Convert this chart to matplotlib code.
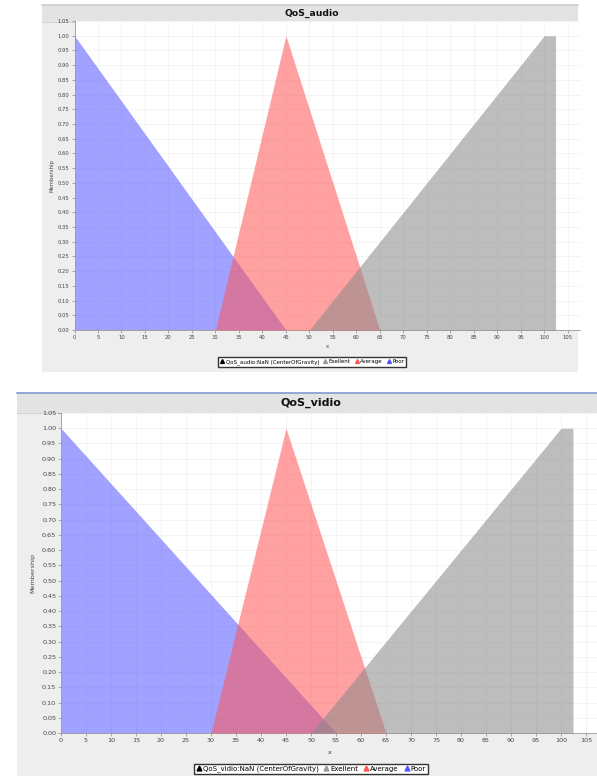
import matplotlib
matplotlib.use("Agg")
import matplotlib.pyplot as plt
from matplotlib.patches import Rectangle
from matplotlib.lines import Line2D

# ---- data ----
titles = ["QoS_audio", "QoS_vidio"]
var_names = ["QoS_audio", "QoS_vidio"]
series_names = ["Exellent", "Average", "Poor"]

audio_poor_x = [0, 45]
audio_poor_y = [1, 0]
audio_avg_x = [30, 45, 65]
audio_avg_y = [0, 1, 0]
audio_exc_x = [50, 100, 102.4, 102.4]
audio_exc_y = [0, 1, 1, 0]

video_poor_x = [0, 55]
video_poor_y = [1, 0]
video_avg_x = [30, 45, 65]
video_avg_y = [0, 1, 0]
video_exc_x = [50, 100, 102.4, 102.4]
video_exc_y = [0, 1, 1, 0]

x_ticks = list(range(0, 110, 5))
y_ticks = [i / 100 for i in range(0, 106, 5)]

col_poor = "#5555FF"
col_avg = "#FF5555"
col_exc = "#888888"
ALPHA = 0.55

W, H = 597, 776
fig = plt.figure(figsize=(W / 100, H / 100), dpi=100)
bg = fig.add_axes([0, 0, 1, 1], zorder=-10)
bg.set_xlim(0, W)
bg.set_ylim(H, 0)
bg.axis("off")


def fx(px):
    return px / W


def fy(py):
    return 1 - py / H


def panel(x0, y0, x1, y1, hy1, border):
    bg.add_patch(Rectangle((x0, y0), x1 - x0, y1 - y0, facecolor="#EEEEEE", edgecolor="none"))
    bg.add_patch(Rectangle((x0, y0), x1 - x0, hy1 - y0, facecolor="#E3E3E3", edgecolor="none"))
    bg.plot([x0, x1], [y0, y0], color=border, lw=1.2)
    bg.plot([x0, x1], [hy1, hy1], color="#D0D0D0", lw=0.6)


def make_chart(rect, data, title, tfs, lfs, title_xy, ylabel_x, xlabel_xy, legend_y, var):
    ax = fig.add_axes(rect, zorder=5)
    ax.set_facecolor("white")
    (px, py), (ax_, ay), (ex, ey) = data
    ax.fill_between(px, py, 0, color=col_poor, alpha=ALPHA, lw=0, zorder=2)
    ax.fill_between(ax_, ay, 0, color=col_avg, alpha=ALPHA, lw=0, zorder=3)
    ax.fill_between(ex, ey, 0, color=col_exc, alpha=ALPHA, lw=0, zorder=4)
    ax.set_xlim(0, 107.5)
    ax.set_ylim(0, 1.05)
    ax.set_xticks(x_ticks)
    ax.set_yticks(y_ticks)
    ax.set_xticklabels([str(v) for v in x_ticks])
    ax.set_yticklabels([f"{v:.2f}" for v in y_ticks])
    ax.tick_params(labelsize=tfs, length=2, width=0.5, color="#888888",
                   labelcolor="#444444", pad=1.5)
    ax.grid(True, color="#F3F3F3", lw=0.6, zorder=0)
    ax.set_axisbelow(True)
    for s in ["top", "right"]:
        ax.spines[s].set_visible(False)
    for s in ["left", "bottom"]:
        ax.spines[s].set_color("#999999")
        ax.spines[s].set_linewidth(0.6)
    fig.text(fx(title_xy[0]), fy(title_xy[1]), title, ha="center", va="center",
             fontsize=tfs * 1.75, fontweight="bold", color="#111111", zorder=6)
    fig.text(fx(ylabel_x), rect[1] + rect[3] / 2, "Membership", rotation=90,
             ha="center", va="center", fontsize=tfs, color="#444444", zorder=6)
    fig.text(fx(xlabel_xy[0]), fy(xlabel_xy[1]), "x",
             ha="center", va="center", fontsize=tfs, color="#444444", zorder=6)
    handles = [
        Line2D([], [], ls="none", marker="^", color="black", markersize=lfs * 0.7),
        Line2D([], [], ls="none", marker="^", color="#999999", markersize=lfs * 0.7),
        Line2D([], [], ls="none", marker="^", color="#FF5555", markersize=lfs * 0.7),
        Line2D([], [], ls="none", marker="^", color="#5555FF", markersize=lfs * 0.7),
    ]
    labels = [f"{var}:NaN (CenterOfGravity)"] + series_names
    leg = fig.legend(handles, labels, loc="center",
                     bbox_to_anchor=(fx(title_xy[0]), fy(legend_y)),
                     ncol=4, fontsize=lfs, frameon=True, fancybox=False, edgecolor="#333333",
                     framealpha=1, facecolor="white", handletextpad=0.2, columnspacing=0.7,
                     borderpad=0.3, handlelength=0.8, borderaxespad=0)
    leg.set_zorder(6)
    return ax


panel(42, 5, 578, 372, 22, "#CCCCCC")
panel(17, 393, 597, 776, 413, "#7E9BD0")

make_chart([fx(74.5), fy(330), fx(579.5) - fx(74.5), fy(21) - fy(330)],
           [(audio_poor_x, audio_poor_y), (audio_avg_x, audio_avg_y), (audio_exc_x, audio_exc_y)],
           titles[0], 3.8, 4.0, (312, 13), 52, (327, 347), 362, var_names[0])
make_chart([fx(61), fy(733), fx(598.5) - fx(61), fy(413) - fy(733)],
           [(video_poor_x, video_poor_y), (video_avg_x, video_avg_y), (video_exc_x, video_exc_y)],
           titles[1], 4.6, 5.0, (311, 403), 33, (330, 752), 769, var_names[1])

fig.savefig("out.png", dpi=100, facecolor="white")
